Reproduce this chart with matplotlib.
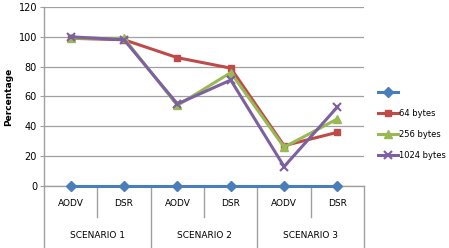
import matplotlib.pyplot as plt

# data
categories = ["AODV", "DSR", "AODV", "DSR", "AODV", "DSR"]
scenarios = ["SCENARIO 1", "SCENARIO 2", "SCENARIO 3"]
series_blank = [0, 0, 0, 0, 0, 0]
bytes_64 = [99, 98, 86, 79, 27, 36]
bytes_256 = [99, 99, 54, 76, 26, 45]
bytes_1024 = [100, 98, 55, 71, 13, 53]

dpi = 100
fig = plt.figure(figsize=(4.49, 2.48), dpi=dpi)
ax = fig.add_axes([0.098, 0.25, 0.713, 0.722])

x = list(range(len(categories)))
grey = "#a0a0a0"

ax.plot(x, bytes_64, color="#be4b48", lw=2.2, marker="s", ms=5, label="64 bytes", zorder=3)
ax.plot(x, bytes_256, color="#98b954", lw=2.2, marker="^", ms=5.5, label="256 bytes", zorder=4)
ax.plot(x, bytes_1024, color="#7d60a0", lw=2.2, marker="x", ms=5.5, mew=1.5, label="1024 bytes", zorder=5)
ax.plot(x, series_blank, color="#4a7ebb", lw=2.2, marker="D", ms=5, label=" ", zorder=6, clip_on=False)

ax.set_xlim(-0.5, len(categories) - 0.5)
ax.set_ylim(0, 120)
ax.set_yticks(range(0, 121, 20))
ax.tick_params(axis="y", labelsize=7, length=3, color=grey, pad=2)
ax.grid(axis="y", color=grey, lw=0.9)
ax.set_axisbelow(True)
for s in ["top", "right", "bottom"]:
    ax.spines[s].set_visible(False)
ax.spines["left"].set_color(grey)
ax.spines["left"].set_linewidth(1.0)
ax.set_ylabel("Percentage", fontsize=6.5, fontweight="bold", labelpad=4)

# two-level category axis drawn by hand
ax.set_xticks([])
tr = ax.get_xaxis_transform()
short, long_ = -0.173, -0.346
ax.plot([-0.5, len(categories) - 0.5], [0, 0], color=grey, lw=1, transform=tr, clip_on=False, zorder=1)
for i in range(len(categories) + 1):
    b = i - 0.5
    y0 = long_ if i % 2 == 0 else short
    ax.plot([b, b], [0, y0], color=grey, lw=1, transform=tr, clip_on=False)
for i, c in enumerate(categories):
    ax.text(i, -0.10, c, transform=tr, ha="center", va="center", fontsize=6.5)
for j, s in enumerate(scenarios):
    ax.text(2 * j + 0.5, -0.275, s, transform=tr, ha="center", va="center", fontsize=6.5)

h, l = ax.get_legend_handles_labels()
order = [3, 0, 1, 2]
fig.legend([h[k] for k in order], [l[k] for k in order], loc="center left",
           bbox_to_anchor=(0.834, 0.50), frameon=False, fontsize=6,
           handlelength=2.4, handletextpad=0.1, labelspacing=1.45, borderaxespad=0)

fig.savefig("out.png", dpi=dpi)
plt.close()
